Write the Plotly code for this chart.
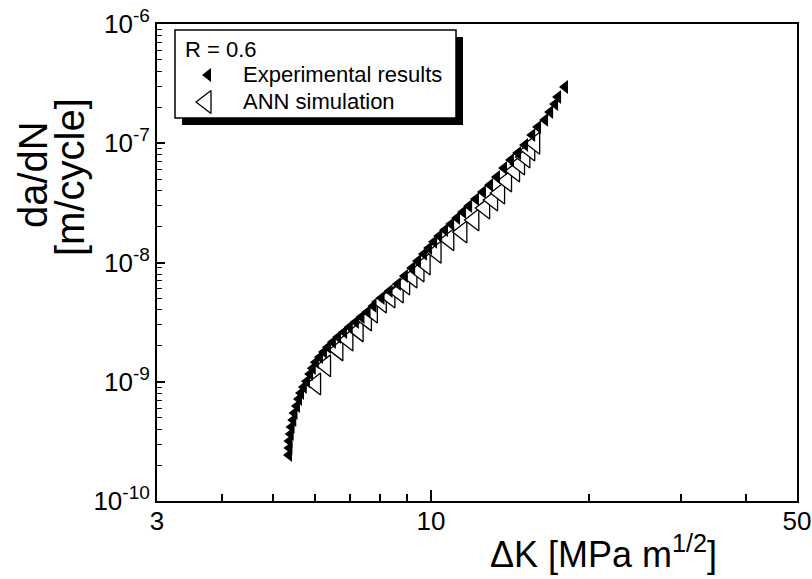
import math
import plotly.graph_objects as go

# ---- data ----
dk_exp = [5.36, 5.37, 5.37, 5.40, 5.42, 5.46, 5.49, 5.55, 5.60, 5.65, 5.72, 5.80,
          5.88, 5.95, 6.03, 6.14, 6.25, 6.36, 6.50, 6.65, 6.83, 7.00, 7.19, 7.37,
          7.57, 7.77, 8.05, 8.34, 8.65, 8.92, 9.21, 9.45, 9.70, 9.92, 10.14, 10.37,
          10.64, 10.93, 11.22, 11.52, 11.83, 12.19, 12.57, 12.97, 13.37, 13.79, 14.22,
          14.67, 15.13, 15.61, 16.02, 16.52, 16.89, 17.26, 17.49, 18.03]
dadn_exp = [2.43e-10, 2.78e-10, 3.18e-10, 3.65e-10, 4.18e-10, 4.78e-10, 5.47e-10, 6.26e-10,
            7.17e-10, 8.05e-10, 9.04e-10, 1.01e-9, 1.16e-9, 1.30e-9, 1.46e-9, 1.61e-9,
            1.78e-9, 1.95e-9, 2.15e-9, 2.37e-9, 2.61e-9, 2.88e-9, 3.17e-9, 3.49e-9,
            3.85e-9, 4.32e-9, 5.04e-9, 5.77e-9, 6.60e-9, 7.71e-9, 9.00e-9, 1.03e-8,
            1.18e-8, 1.32e-8, 1.49e-8, 1.67e-8, 1.87e-8, 2.10e-8, 2.36e-8, 2.65e-8,
            2.98e-8, 3.40e-8, 3.90e-8, 4.47e-8, 5.21e-8, 6.19e-8, 7.24e-8, 8.28e-8,
            9.67e-8, 1.17e-7, 1.37e-7, 1.57e-7, 1.83e-7, 2.13e-7, 2.44e-7, 2.96e-7]

dk_ann = [6.03, 6.30, 6.65, 6.95, 7.27, 7.54, 7.74, 8.05, 8.36, 8.67, 8.92, 9.21, 9.50,
          9.76, 10.24, 10.83, 11.47, 12.09, 12.68, 13.13, 13.54, 13.96, 14.46, 14.78,
          15.13, 15.46, 15.80]
dadn_ann = [9.57e-10, 1.36e-9, 1.85e-9, 2.24e-9, 2.67e-9, 3.30e-9, 3.85e-9, 4.67e-9,
            5.14e-9, 5.66e-9, 6.60e-9, 7.56e-9, 8.49e-9, 9.71e-9, 1.22e-8, 1.55e-8,
            1.80e-8, 2.27e-8, 2.86e-8, 3.34e-8, 3.83e-8, 4.82e-8, 5.85e-8, 6.70e-8,
            7.67e-8, 8.78e-8, 1.00e-7]

series_names = ["Experimental results", "ANN simulation"]
legend_title = "R = 0.6"

x_tick_vals = [3, 10, 50]
x_tick_text = ["3", "10", "50"]
x_minor_vals = [4, 5, 6, 7, 8, 9, 20, 30, 40]
y_tick_vals = [1e-10, 1e-9, 1e-8, 1e-7, 1e-6]
y_tick_exponents = ["-10", "-9", "-8", "-7", "-6"]
y_minor_vals = [m * 10.0 ** e for e in range(-10, -6) for m in range(2, 10)]

FONT = "Liberation Sans, Arial, sans-serif"
y_tick_text = ["10<sup><span style='font-size:19px'>%s</span></sup>" % e
               for e in y_tick_exponents]

# page body margin is removed in the page (post_script), figure fills the window
W, H = 812, 579
PX0, PX1, PY0, PY1 = 157, 797, 24, 501      # plot area in window pixels
L, R, T, B = PX0, W - PX1, PY0, H - PY1
pw, ph = PX1 - PX0, PY1 - PY0


def px_x(px):
    return (px - PX0) / pw


def px_y(py):
    return (PY1 - py) / ph


fig = go.Figure()
fig.add_trace(go.Scatter(
    x=dk_ann, y=dadn_ann, mode="markers", name=series_names[1],
    marker=dict(symbol="triangle-left", size=19, color="white",
                line=dict(color="black", width=1.3))))
fig.add_trace(go.Scatter(
    x=dk_exp, y=dadn_exp, mode="markers", name=series_names[0],
    marker=dict(symbol="triangle-left", size=12, color="black",
                line=dict(color="black", width=0))))

# legend symbols (drawn on an invisible overlay axis measured in window pixels)
fig.add_trace(go.Scatter(
    x=[208], y=[75], xaxis="x2", yaxis="y2", mode="markers", showlegend=False,
    hoverinfo="skip",
    marker=dict(symbol="triangle-left", size=12, color="black", line=dict(width=0))))
fig.add_trace(go.Scatter(
    x=[206], y=[102], xaxis="x2", yaxis="y2", mode="markers", showlegend=False,
    hoverinfo="skip",
    marker=dict(symbol="triangle-left", size=20, color="white",
                line=dict(color="black", width=1.3))))

axis_common = dict(
    type="log", showline=True, linewidth=2, linecolor="black", mirror=True,
    showgrid=False, zeroline=False, ticks="inside", tickcolor="black",
    tickwidth=1.5, tickmode="array", ticklabeloverflow="allow", automargin=False,
)

fig.update_layout(
    width=W, height=H,
    margin=dict(l=L, r=R, t=T, b=B, autoexpand=False),
    paper_bgcolor="white", plot_bgcolor="white",
    font=dict(family=FONT, color="black"),
    showlegend=False,
    xaxis=dict(axis_common, range=[math.log10(3), math.log10(50)],
               tickvals=x_tick_vals, ticktext=x_tick_text, ticklen=11,
               ticklabelstandoff=-4,
               tickfont=dict(family=FONT, size=26, color="black"),
               minor=dict(tickvals=x_minor_vals, ticks="inside", ticklen=7,
                          tickwidth=1.5, tickcolor="black", showgrid=False)),
    yaxis=dict(axis_common, range=[-10, -6],
               tickvals=y_tick_vals, ticktext=y_tick_text, ticklen=8,
               ticklabelstandoff=0,
               tickfont=dict(family=FONT, size=26, color="black"),
               minor=dict(tickvals=y_minor_vals, ticks="inside", ticklen=5,
                          tickwidth=1.2, tickcolor="black", showgrid=False)),
    xaxis2=dict(overlaying="x", anchor="y2", range=[PX0, PX1], visible=False,
                fixedrange=True, automargin=False),
    yaxis2=dict(overlaying="y", anchor="x2", range=[PY1, PY0], visible=False,
                fixedrange=True, automargin=False),
    shapes=[
        dict(type="rect", xref="paper", yref="paper",
             x0=px_x(182), x1=px_x(463), y0=px_y(125), y1=px_y(37),
             fillcolor="black", line=dict(width=0), layer="below"),
        dict(type="rect", xref="paper", yref="paper",
             x0=px_x(175), x1=px_x(456), y0=px_y(118), y1=px_y(30),
             fillcolor="white", line=dict(color="black", width=1.5), layer="below"),
    ],
    annotations=[
        dict(text=legend_title, xref="paper", yref="paper",
             x=px_x(183), y=px_y(49), xanchor="left", yanchor="middle",
             showarrow=False, font=dict(family=FONT, size=22, color="black")),
        dict(text=series_names[0], xref="paper", yref="paper",
             x=px_x(241), y=px_y(75), xanchor="left", yanchor="middle",
             showarrow=False, font=dict(family=FONT, size=22, color="black")),
        dict(text=series_names[1], xref="paper", yref="paper",
             x=px_x(241), y=px_y(102), xanchor="left", yanchor="middle",
             showarrow=False, font=dict(family=FONT, size=22, color="black")),
        dict(text="ΔK [MPa m<sup>1/2</sup>]", xref="paper", yref="paper",
             x=px_x(603), y=px_y(552), xanchor="center", yanchor="middle",
             showarrow=False, font=dict(family=FONT, size=36, color="black")),
        dict(text="da/dN", xref="paper", yref="paper", textangle=-90,
             x=px_x(33), y=px_y(175), xanchor="center", yanchor="middle",
             showarrow=False, font=dict(family=FONT, size=40, color="black")),
        dict(text="[m/cycle]", xref="paper", yref="paper", textangle=-90,
             x=px_x(70), y=px_y(177), xanchor="center", yanchor="middle",
             showarrow=False, font=dict(family=FONT, size=40, color="black")),
    ],
)

fig.write_html(
    "out.html",
    config={"displayModeBar": False},
    post_script="document.body.style.margin='0';"
                "document.body.style.overflow='hidden';",
)
